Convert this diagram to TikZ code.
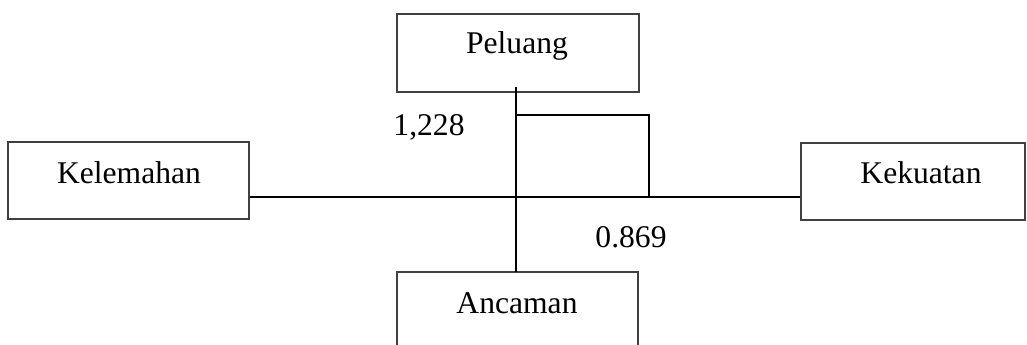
\documentclass[tikz,border=0pt]{standalone}
\usepackage{fontspec}
\setmainfont{Liberation Serif}
\begin{document}
\begin{tikzpicture}[x=1pt,y=-1pt,
  box/.style={draw=black!75,line width=1.2pt,rectangle,inner sep=0pt},
  word/.style={anchor=base,inner sep=0pt,font=\fontsize{31.6}{38}\selectfont},
  wire/.style={line width=2pt,black}]
\useasboundingbox (0,0) rectangle (1027,345);
% quadrant boxes
\node[box,minimum width=242pt,minimum height=78pt] (pel) at (518,53) {};
\node[box,minimum width=241pt,minimum height=77pt] (kel) at (128.5,180.5) {};
\node[box,minimum width=224pt,minimum height=77pt] (kek) at (913,181.5) {};
\node[box,minimum width=241pt,minimum height=80pt] (anc) at (517.5,312) {};
% box titles
\node[word] (tpel) at (517,54) {Peluang};
\node[word] (tkel) at (129,183) {Kelemahan};
\node[word] (tkek) at (921,183) {Kekuatan};
\node[word] (tanc) at (517,313) {Ancaman};
% axis values
\node[word] (vy) at (429,135) {1,228};
\node[word] (vx) at (631,247) {0.869};
% axes
\coordinate (origin) at (516,197);
\coordinate (vtop) at (516,87);
\coordinate (vbot) at (516,272);
\draw[wire] (vtop) -- (vbot);
\draw[wire] (kel.east |- origin) -- (kek.west |- origin);
% position marker
\coordinate (mtop) at (516,115);
\coordinate (mcorner) at (649,115);
\coordinate (mfoot) at (649,197);
\draw[wire] (mtop) -- (mcorner) -- (mfoot);
\end{tikzpicture}
\end{document}
